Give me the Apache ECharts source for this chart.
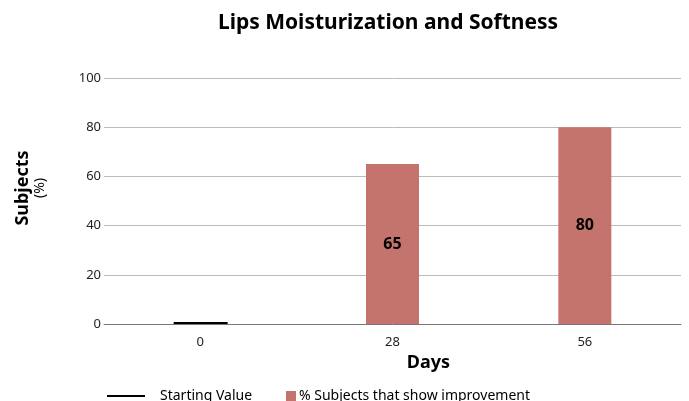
<!DOCTYPE html>
<html>
<head>
<meta charset="utf-8">
<script src="https://cdn.jsdelivr.net/npm/echarts@6/dist/echarts.min.js"></script>
<style>
  html, body { margin: 0; padding: 0; background: #fff; }
  #chart { width: 689px; height: 401px; }
</style>
</head>
<body>
<div id="chart"></div>
<script>
var days = ['0', '28', '56']
var startingValue = [0.8, null, null]
var improvement = [null, 65, 80]
var yTicks = { min: 0, max: 100, interval: 20 }

var font = 'Noto Sans'
var dom = echarts.init(document.getElementById('chart'))
var option = {
  textStyle: { fontFamily: font },
  title: {
    text: 'Lips Moisturization and Softness',
    left: 383,
    textAlign: 'center',
    top: 8,
    textStyle: { fontFamily: font, fontSize: 21, fontWeight: 'bold', color: '#000' }
  },
  legend: [
    {
      data: ['Starting Value'],
      left: 102,
      top: 384,
      itemWidth: 38,
      itemHeight: 2,
      itemGap: 6,
      icon: 'rect',
      textStyle: { fontFamily: font, fontSize: 14, color: '#000', padding: [0, 0, 0, 10] }
    },
    {
      data: ['% Subjects that show improvement'],
      left: 281,
      top: 384,
      itemWidth: 10,
      itemHeight: 10,
      icon: 'rect',
      textStyle: { fontFamily: font, fontSize: 14, color: '#000', padding: [0, 0, 0, -2] }
    }
  ],
  grid: { left: 104, right: 8, top: 78, bottom: 77 },
  xAxis: {
    type: 'category',
    data: days,
    name: 'Days',
    nameLocation: 'middle',
    nameGap: 30,
    nameTextStyle: { fontSize: 18, fontWeight: 'bold', color: '#000', padding: [0, 0, 0, 72] },
    axisLine: { lineStyle: { color: '#777' } },
    axisTick: { show: false },
    axisLabel: { fontSize: 13, color: '#222', margin: 12 }
  },
  yAxis: {
    type: 'value',
    min: yTicks.min,
    max: yTicks.max,
    interval: yTicks.interval,
    name: '{a|Subjects}\n{b|(%)}',
    nameLocation: 'middle',
    nameGap: 56,
    nameTextStyle: {
      padding: [0, 0, 0, 26],
      rich: {
        a: { fontFamily: font, fontSize: 18, fontWeight: 'bold', color: '#000', lineHeight: 19 },
        b: { fontFamily: font, fontSize: 14, color: '#000', lineHeight: 16 }
      }
    },
    axisLine: { show: false },
    axisTick: { show: false },
    axisLabel: { fontSize: 13, color: '#222', margin: 3 },
    splitLine: { lineStyle: { color: '#bbb' } }
  },
  series: [
    {
      name: 'Starting Value',
      type: 'bar',
      data: startingValue,
      barWidth: 54,
      barGap: '-100%',
      itemStyle: { color: '#000' }
    },
    {
      name: '% Subjects that show improvement',
      type: 'bar',
      data: improvement,
      barWidth: 53,
      itemStyle: { color: '#C5736D' },
      label: {
        show: true,
        position: 'inside',
        fontSize: 16,
        fontWeight: 'bold',
        color: '#000'
      }
    }
  ]
}
dom.setOption(option)
</script>
</body>
</html>
